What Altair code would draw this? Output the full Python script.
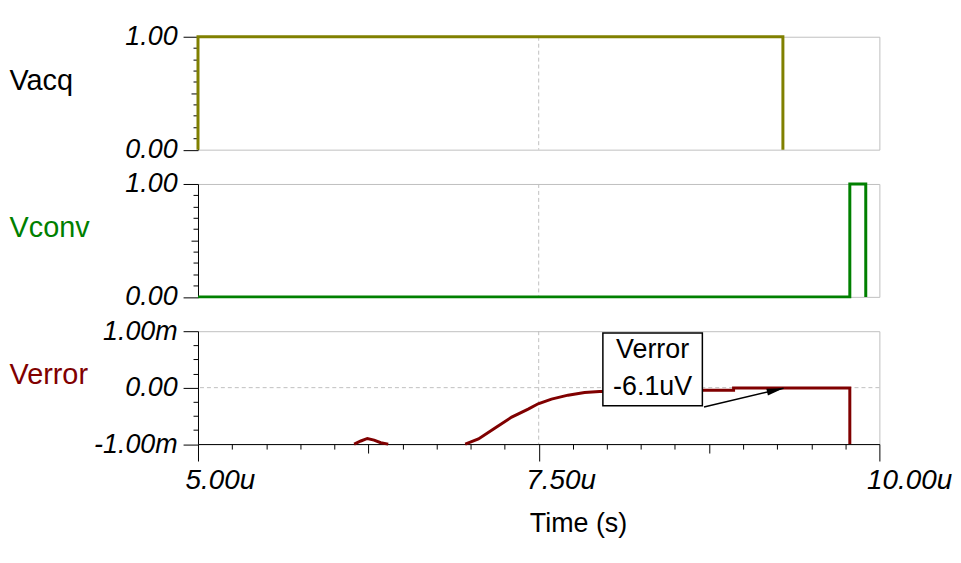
import altair as alt
import pandas as pd

# ---------------- data ----------------
# time in microseconds, voltages in V (Vacq, Vconv) and mV (Verror)
t_acq = [5.0, 5.0, 9.292, 9.292]
v_acq = [0.0, 1.0, 1.0, 0.0]

t_conv = [5.0, 9.783, 9.783, 9.900, 9.900]
v_conv = [0.0, 0.0, 1.0, 1.0, 0.0]

t_err1 = [6.146, 6.195, 6.243, 6.292, 6.341, 6.396]
v_err1 = [-1.0, -0.945, -0.900, -0.930, -0.975, -1.0]

t_err2 = [6.961, 7.058, 7.180, 7.302, 7.423, 7.496, 7.594, 7.715, 7.837,
          7.946, 8.300, 8.713, 8.930, 8.930, 9.783, 9.783]
v_err2 = [-1.0, -0.908, -0.715, -0.521, -0.380, -0.286, -0.204, -0.133, -0.087,
          -0.069, -0.055, -0.045, -0.045, -0.0061, -0.0061, -1.0]

x_domain = [5.0, 10.0]
x_ticks = [5.0, 5.25, 5.5, 5.75, 6.0, 6.25, 6.5, 6.75, 7.0, 7.25, 7.5, 7.75,
           8.0, 8.25, 8.5, 8.75, 9.0, 9.25, 9.5, 9.75, 10.0]
x_major = [5.0, 7.5, 10.0]
x_major_labels = ["5.00u", "7.50u", "10.00u"]
x_mid = [6.25, 8.75]
x_title = "Time (s)"
grid_t = [7.5]

y01_domain = [0.0, 1.0]
y01_ticks = [0.0, 0.1, 0.2, 0.3, 0.4, 0.5, 0.6, 0.7, 0.8, 0.9, 1.0]
y01_major = [0.0, 1.0]
y01_labels = ["0.00", "1.00"]
y01_mid = [0.5]

yerr_domain = [-1.0, 1.0]
yerr_ticks = [-1.0, -0.75, -0.5, -0.25, 0.0, 0.25, 0.5, 0.75, 1.0]
yerr_major = [-1.0, 0.0, 1.0]
yerr_labels = ["-1.00m", "0.00", "1.00m"]
grid_v = [0.0]

signal_names = ["Vacq", "Vconv", "Verror"]
signal_colors = ["#808000", "#008000", "#800000"]
title_colors = ["#000000", "#008000", "#800000"]

# annotation box / arrow
box_t = [7.971, 8.701]
box_v = [0.970, -0.322]
note_lines = ["Verror", "-6.1uV"]
note_t = [8.336, 8.336]
note_v = [0.519, -0.128]
arrow_t = [8.713, 9.297]
arrow_v = [-0.344, -0.010]

FONT = "Liberation Sans"
GRAY = "#c0c0c0"


def in_list(vals):
    return "indexof([" + ",".join(repr(v) for v in vals) + "], datum.value) >= 0"


def label_expr(vals, labels):
    expr = "''"
    for v, lab in zip(reversed(vals), reversed(labels)):
        expr = f"datum.value == {v!r} ? '{lab}' : ({expr})"
    return expr


xscale = alt.Scale(domain=x_domain, nice=False, zero=False)

X_AXIS = alt.Axis(
    values=x_ticks,
    labelExpr=label_expr(x_major, x_major_labels),
    tickSize={"condition": [{"test": in_list(x_major), "value": 17},
                            {"test": in_list(x_mid), "value": 9}],
              "value": 5},
    grid=False, domainColor="black", tickColor="black", domainWidth=1,
    labelFont=FONT, labelFontSize=28, labelFontStyle="italic",
    labelColor="black", labelAlign="left", labelOffset=-13,
    labelBaseline="alphabetic", labelPadding=28, labelOverlap=False,
    labelFlush=False, labelBound=False,
    title=x_title, titleFont=FONT, titleFontSize=27,
    titleFontWeight="normal", titleColor="black",
    titleX=382, titleY=87.5, titleAlign="center",
    titleBaseline="alphabetic",
)


def y_axis(ticks, major, labels, mid, title, tcolor):
    conds = [{"test": in_list(major), "value": 15}]
    if mid:
        conds.append({"test": in_list(mid), "value": 7})
    return alt.Axis(
        values=ticks,
        labelExpr=label_expr(major, labels),
        tickSize={"condition": conds, "value": 5},
        grid=False, domainColor="black", tickColor="black", domainWidth=1,
        labelFont=FONT, labelFontSize=27, labelFontStyle="italic",
        labelColor="black", labelPadding=6, labelOverlap=False,
        labelBound=False, labelFlush=False,
        title=title, titleFont=FONT, titleFontSize=29, titleFontWeight="normal",
        titleColor=tcolor, titleAngle=0, titleX=-190, titleY=53,
        titleAlign="left", titleBaseline="alphabetic",
    )


def build_panel(df, idx, ydomain, ticks, major, labels, mid, show_x, extra=None):
    yscale = alt.Scale(domain=ydomain, nice=False, zero=False)
    yax = y_axis(ticks, major, labels, mid, signal_names[idx], title_colors[idx])
    xax = X_AXIS if show_x else None

    def X(field):
        return alt.X(field, type="quantitative", scale=xscale, axis=xax)

    def Y(field):
        return alt.Y(field, type="quantitative", scale=yscale, axis=yax)

    line = alt.Chart(df).mark_line(
        color=signal_colors[idx], strokeWidth=3, strokeJoin="miter", clip=False
    ).encode(x=X("t"), y=Y("v"), detail="seg:N", order="i:Q")

    grid_x = alt.Chart(pd.DataFrame({"t": grid_t})).mark_rule(
        color=GRAY, strokeDash=[4, 3], strokeWidth=1
    ).encode(x=X("t"))

    layers = [grid_x]
    if extra is not None:
        layers += extra(X, Y)["pre"]
    layers.append(line)
    if extra is not None:
        layers += extra(X, Y)["post"]
    return alt.layer(*layers).properties(width=685, height=113.5)


def err_extras(X, Y):
    grid_y = alt.Chart(pd.DataFrame({"v": grid_v})).mark_rule(
        color=GRAY, strokeDash=[4, 3], strokeWidth=1
    ).encode(y=Y("v"))

    box = alt.Chart(pd.DataFrame({"t1": [box_t[0]], "t2": [box_t[1]],
                                  "v1": [box_v[0]], "v2": [box_v[1]]})).mark_rect(
        fill="white", stroke="black", strokeWidth=1.5
    ).encode(x=X("t1"), x2="t2", y=Y("v1"), y2="v2")

    note = alt.Chart(pd.DataFrame({"t": note_t, "v": note_v, "txt": note_lines})).mark_text(
        font=FONT, fontSize=27, color="black", align="center", baseline="alphabetic"
    ).encode(x=X("t"), y=Y("v"), text="txt:N")

    arrow_line = alt.Chart(pd.DataFrame({"t": arrow_t, "v": arrow_v, "i": [0, 1]})).mark_line(
        color="black", strokeWidth=1.5
    ).encode(x=X("t"), y=Y("v"), order="i:Q")

    arrow_head = alt.Chart(pd.DataFrame({"t": [arrow_t[1]], "v": [arrow_v[1]]})).mark_point(
        shape="M0,0L-2,-0.4L-2,0.4Z", size=289, filled=True, color="black",
        opacity=1, angle=346.6
    ).encode(x=X("t"), y=Y("v"))

    return {"pre": [grid_y], "post": [box, note, arrow_line, arrow_head]}


df_acq = pd.DataFrame({"t": t_acq, "v": v_acq, "seg": 0, "i": range(len(t_acq))})
df_conv = pd.DataFrame({"t": t_conv, "v": v_conv, "seg": 0, "i": range(len(t_conv))})
df_err = pd.concat([
    pd.DataFrame({"t": t_err1, "v": v_err1, "seg": 1, "i": range(len(t_err1))}),
    pd.DataFrame({"t": t_err2, "v": v_err2, "seg": 2, "i": range(len(t_err2))}),
])

p1 = build_panel(df_acq, 0, y01_domain, y01_ticks, y01_major, y01_labels, y01_mid, False)
p2 = build_panel(df_conv, 1, y01_domain, y01_ticks, y01_major, y01_labels, y01_mid, False)
p3 = build_panel(df_err, 2, yerr_domain, yerr_ticks, yerr_major, yerr_labels, None, True,
                 extra=err_extras)

chart = alt.vconcat(p1, p2, p3, spacing=34, bounds="flush").properties(
    padding={"left": 0, "top": 12.5, "right": 0, "bottom": 0},
    background="white",
).configure_view(stroke=GRAY, strokeWidth=1)

chart.save("out.html", embed_options={"renderer": "svg", "actions": False})
